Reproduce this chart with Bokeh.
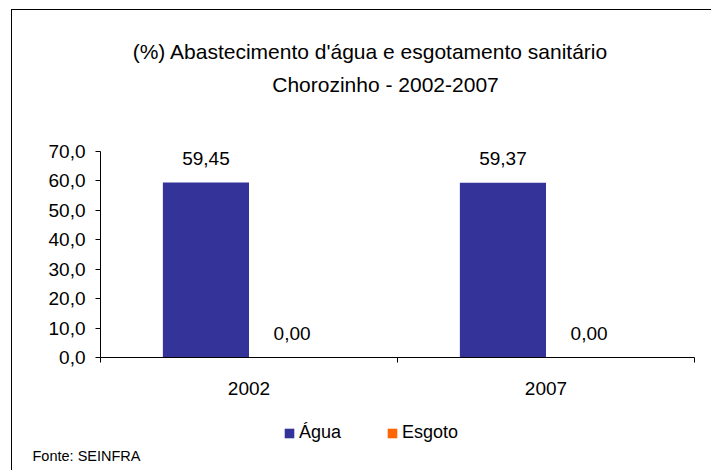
from bokeh.plotting import figure
from bokeh.models import (Range1d, FixedTicker, CustomJSTickFormatter, ColumnDataSource,
                          LabelSet, Label, Legend, LegendItem)
from bokeh.core.properties import value
from bokeh.transform import dodge
from bokeh.embed import file_html
from bokeh.resources import INLINE

categories = ["2002", "2007"]
agua = [59.45, 59.37]
esgoto = [0.00, 0.00]
y_ticks = [0, 10, 20, 30, 40, 50, 60, 70]
title_lines = ["(%) Abastecimento d'água e esgotamento sanitário", "Chorozinho - 2002-2007"]
source_note = "Fonte: SEINFRA"

FONT = "Liberation Sans"
BLUE = "#333399"
ORANGE = "#FF6600"

# canvas placement (page pixels)
CX0, CY0 = 12, 10          # canvas origin on the page
W, H = 700, 461
# plot area (page pixels)
AX_L, AX_R, AX_T, AX_B = 100, 694, 151, 357
YMAX = 70
ncat = len(categories)
sx = (AX_R - AX_L) / ncat
sy = (AX_B - AX_T) / YMAX

def px2x(px):
    return (px - AX_L) / sx

def px2y(py):
    return (AX_B - py) / sy

x_range = Range1d(px2x(CX0), px2x(CX0 + W))
y_range = Range1d(px2y(CY0 + H), px2y(CY0))

xpos = [i + 0.5 for i in range(ncat)]
fmt = lambda v: ("%.2f" % v).replace(".", ",")
src = ColumnDataSource(dict(x=xpos, agua=agua, esgoto=esgoto,
                            agua_lbl=[fmt(v) for v in agua],
                            esgoto_lbl=[fmt(v) for v in esgoto]))

p = figure(width=W, height=H, output_backend="svg", toolbar_location=None,
           x_range=x_range, y_range=y_range,
           min_border_left=0, min_border_right=0, min_border_top=0, min_border_bottom=0)
p.styles = {"border-left": "1px solid black", "border-top": "1px solid black",
            "margin-left": "11px", "margin-top": "9px"}
p.outline_line_color = None
p.background_fill_color = "white"
p.border_fill_color = "white"
p.xgrid.visible = False
p.ygrid.visible = False

bw = 0.29
r1 = p.vbar(x=dodge("x", -bw / 2, range=p.x_range), top="agua", width=bw, source=src,
            fill_color=BLUE, line_color=None)
r2 = p.vbar(x=dodge("x", bw / 2, range=p.x_range), top="esgoto", width=bw, source=src,
            fill_color=ORANGE, line_color=None)

for col, off in (("agua", -bw / 2), ("esgoto", bw / 2)):
    p.add_layout(LabelSet(x=dodge("x", off, range=p.x_range), y=col, text=col + "_lbl", source=src,
                          y_offset=18, text_align="center", text_baseline="bottom",
                          text_font=value(FONT), text_font_size=value("19px"), text_color="black"))

# axes
xa = p.xaxis[0]
xa.fixed_location = 0
xa.bounds = (0, ncat)
xa.ticker = FixedTicker(ticks=xpos, minor_ticks=list(range(ncat + 1)))
xa.major_label_overrides = {xv: c for xv, c in zip(xpos, categories)}
xa.major_tick_line_color = None
xa.minor_tick_in = 0
xa.minor_tick_out = 5
xa.minor_tick_line_color = "black"
xa.axis_line_color = "black"
xa.major_label_standoff = 18
xa.major_label_text_font = FONT
xa.major_label_text_font_size = "19px"
xa.major_label_text_color = "black"

ya = p.yaxis[0]
ya.fixed_location = 0
ya.bounds = (0, YMAX)
ya.ticker = FixedTicker(ticks=y_ticks)
ya.formatter = CustomJSTickFormatter(code="return tick.toFixed(1).replace('.', ',');")
ya.major_tick_in = 0
ya.major_tick_out = 5
ya.minor_tick_line_color = None
ya.axis_line_color = "black"
ya.major_tick_line_color = "black"
ya.major_label_standoff = 10
ya.major_label_text_font = FONT
ya.major_label_text_font_size = "19px"
ya.major_label_text_color = "black"

# title
for txt, cx, cy in ((title_lines[0], 370, 51), (title_lines[1], 385, 84)):
    p.add_layout(Label(x=px2x(cx), y=px2y(cy), text=txt,
                       text_align="center", text_baseline="middle",
                       text_font=FONT, text_font_size="21px", text_color="black"))

p.add_layout(Label(x=px2x(32), y=px2y(455), text=source_note,
                   text_align="left", text_baseline="middle",
                   text_font=FONT, text_font_size="14.5px", text_color="black"))

legend = Legend(items=[LegendItem(label="Água", renderers=[r1]),
                       LegendItem(label="Esgoto", renderers=[r2])],
                location=(283 - CX0, CY0 + H - 443), orientation="horizontal",
                glyph_width=12, glyph_height=12, label_height=12, label_standoff=4,
                spacing=45, padding=0, margin=0, border_line_color=None,
                background_fill_alpha=0,
                label_text_font=FONT, label_text_font_size="18px", label_text_color="black")
p.add_layout(legend, "center")

open("out.html", "w").write(file_html(p, INLINE))
